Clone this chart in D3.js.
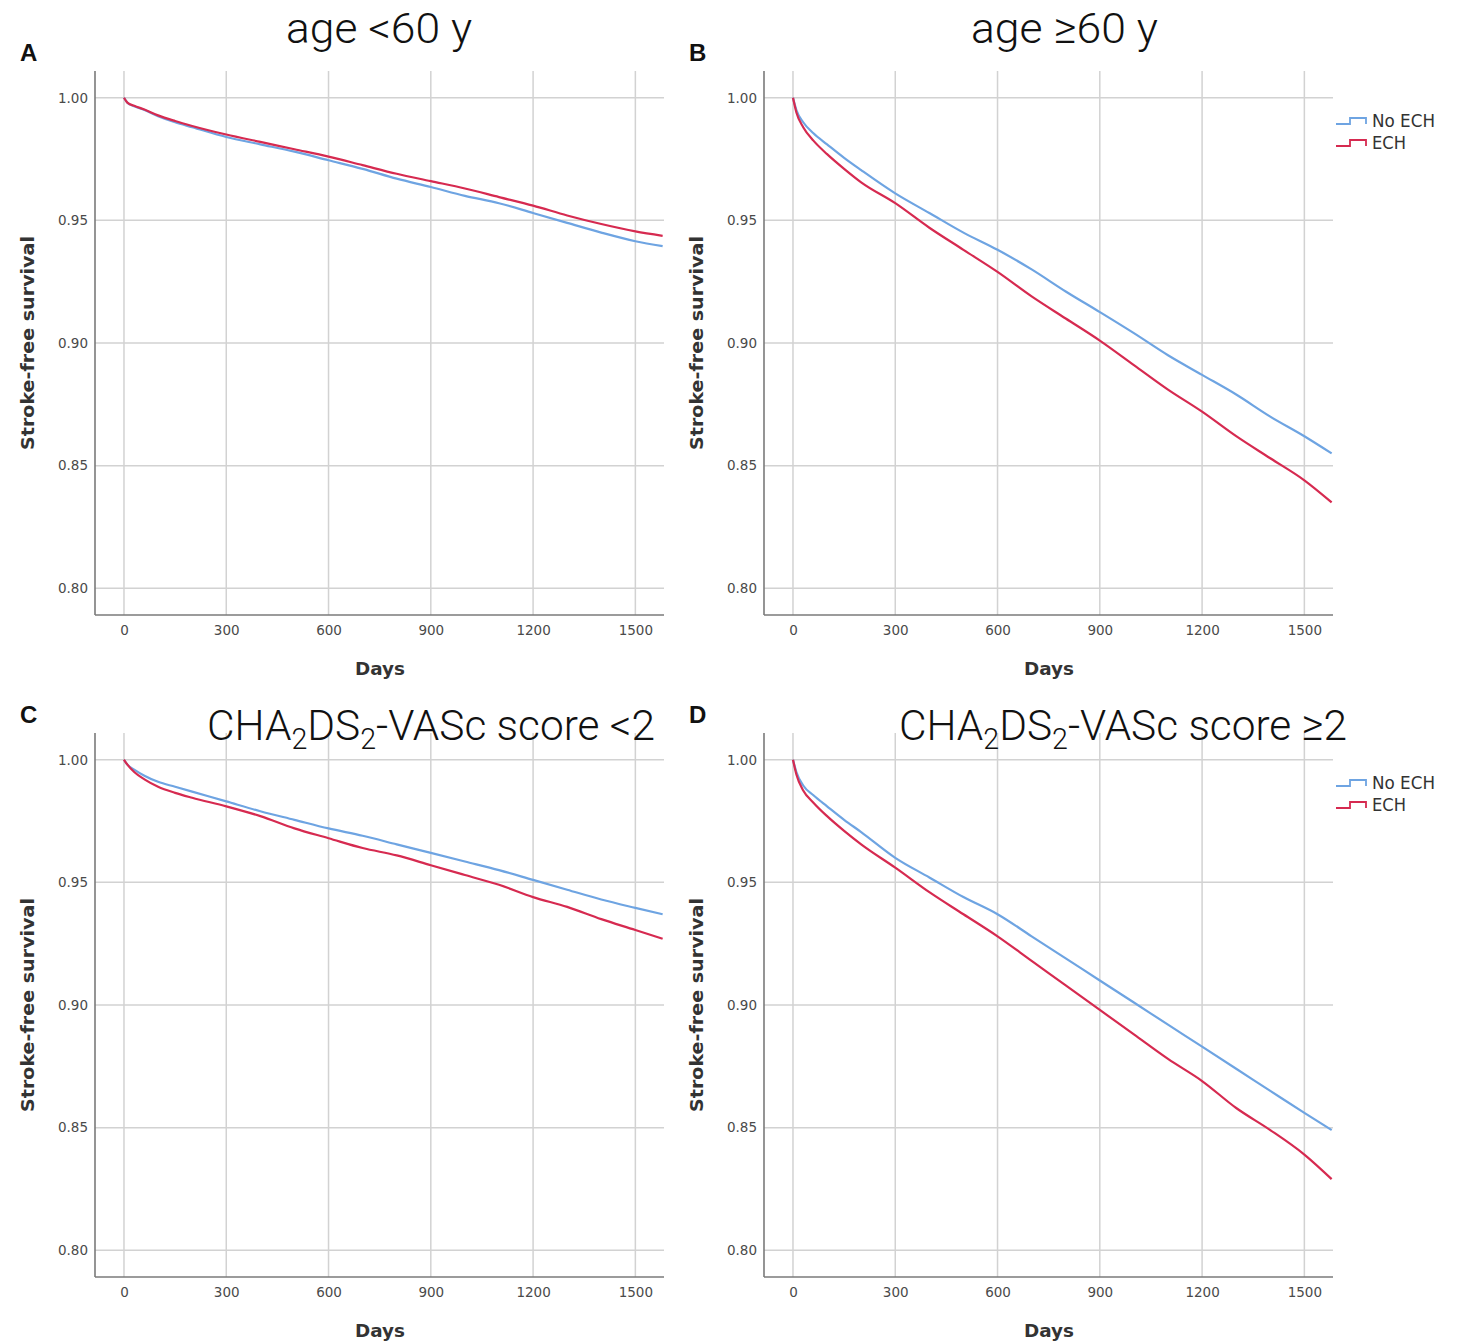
<!DOCTYPE html>
<html><head><meta charset="utf-8">
<script src="https://cdn.jsdelivr.net/npm/d3@7"></script>
<style>body{margin:0;background:#fff}svg{display:block}</style>
</head><body>
<script>
// ---- data ----
const days = [0,10,30,60,100,150,200,300,400,500,600,700,800,900,1000,1100,1200,1300,1400,1500,1580];
const xTicks = [0,300,600,900,1200,1500];
const yTicks = [0.80,0.85,0.90,0.95,1.00];
const seriesNames = ["No ECH","ECH"];
const panelLetters = ["A","B","C","D"];
const panelTitles = ["age <60 y","age \u226560 y","CHA2DS2-VASc score <2","CHA2DS2-VASc score \u22652"];
const aNoECH = [1,0.998,0.9965,0.995,0.9925,0.990,0.988,0.984,0.981,0.978,0.9745,0.971,0.967,0.9636,0.960,0.957,0.953,0.949,0.945,0.9415,0.9395];
const aECH   = [1,0.998,0.9967,0.9952,0.9928,0.9905,0.9885,0.985,0.982,0.979,0.976,0.9725,0.969,0.966,0.963,0.9595,0.956,0.952,0.9485,0.9455,0.9437];
const bNoECH = [1,0.995,0.990,0.9855,0.981,0.9755,0.9705,0.961,0.953,0.945,0.938,0.930,0.921,0.9126,0.904,0.895,0.887,0.879,0.870,0.862,0.855];
const bECH   = [1,0.994,0.988,0.9825,0.977,0.971,0.9655,0.957,0.947,0.938,0.929,0.919,0.910,0.901,0.891,0.881,0.872,0.862,0.853,0.844,0.835];
const cNoECH = [1,0.998,0.996,0.9935,0.991,0.989,0.987,0.983,0.979,0.9755,0.972,0.969,0.9655,0.962,0.9585,0.955,0.951,0.947,0.943,0.9396,0.937];
const cECH   = [1,0.998,0.995,0.992,0.989,0.9865,0.9845,0.981,0.977,0.972,0.968,0.964,0.961,0.957,0.953,0.949,0.944,0.940,0.935,0.9306,0.927];
const dNoECH = [1,0.995,0.9895,0.9855,0.981,0.9755,0.9705,0.960,0.952,0.944,0.937,0.928,0.919,0.910,0.901,0.892,0.883,0.874,0.865,0.856,0.849];
const dECH   = [1,0.994,0.9875,0.9825,0.977,0.971,0.9655,0.956,0.946,0.937,0.928,0.918,0.908,0.898,0.888,0.878,0.869,0.858,0.849,0.839,0.829];
const panelData = [[aNoECH,aECH],[bNoECH,bECH],[cNoECH,cECH],[dNoECH,dECH]];
const showLegend = [false,true,false,true];

// ---- layout ----
const W=1461,H=1343;
const colors=["#6ea4e2","#d62a50"];
const offsets=[[0,0],[669,0],[0,662],[669,662]];
const titleBox=[[286,472,43],[971,1158,43],[207,655,740],[899,1347,740]];
const svg=d3.select("body").append("svg").attr("width",W).attr("height",H);

const x=d3.scaleLinear().domain([-85,1584]).range([95,664]);
const y=d3.scaleLinear().domain([0.7891,1.0109]).range([615,71]);

panelData.forEach((pd,i)=>{
  const [ox,oy]=offsets[i];
  const g=svg.append("g").attr("transform",`translate(${ox},${oy})`);
  // grid
  g.selectAll(".vg").data(xTicks).join("line")
    .attr("x1",d=>x(d)).attr("x2",d=>x(d)).attr("y1",71).attr("y2",615)
    .attr("stroke","#d2d2d2").attr("stroke-width",1.5);
  g.selectAll(".hg").data(yTicks).join("line")
    .attr("x1",95).attr("x2",664).attr("y1",d=>y(d)).attr("y2",d=>y(d))
    .attr("stroke","#d2d2d2").attr("stroke-width",1.5);
  // axes
  const xa=g.append("g").attr("transform","translate(0,615)")
    .call(d3.axisBottom(x).tickValues(xTicks).tickFormat(d3.format("d")).tickSize(0).tickPadding(10));
  const ya=g.append("g").attr("transform","translate(95,0)")
    .call(d3.axisLeft(y).tickValues(yTicks).tickFormat(d3.format(".2f")).tickSize(0).tickPadding(7));
  [xa,ya].forEach(a=>{
    a.select(".domain").attr("stroke","#7a7a7a").attr("stroke-width",1.6);
    a.selectAll("text").attr("font-family","DejaVu Sans").attr("font-size",13.5).attr("fill","#4a4a4a");
  });
  xa.select(".domain").attr("d","M95,0H664");
  ya.select(".domain").attr("d","M0,71V615");
  // axis titles
  g.append("text").attr("x",380).attr("y",675).attr("text-anchor","middle")
    .attr("font-family","DejaVu Sans").attr("font-weight","bold").attr("font-size",18).attr("fill","#333")
    .attr("textLength",50).attr("lengthAdjust","spacingAndGlyphs").text("Days");
  g.append("text").attr("transform","translate(34,343) rotate(-90)").attr("text-anchor","middle")
    .attr("font-family","DejaVu Sans").attr("font-weight","bold").attr("font-size",17.5).attr("fill","#333")
    .attr("textLength",214).attr("lengthAdjust","spacingAndGlyphs").text("Stroke-free survival");
  // letter
  g.append("text").attr("x",20).attr("y",61).attr("font-family","Liberation Sans").attr("font-weight","bold")
    .attr("font-size",24).attr("fill","#111").text(panelLetters[i]);
  // curves
  const line=d3.line().x((d,j)=>x(days[j])).y(d=>y(d)).curve(d3.curveMonotoneX);
  pd.forEach((s,k)=>{
    g.append("path").datum(s).attr("d",line).attr("fill","none")
      .attr("stroke",colors[k]).attr("stroke-width",2.2).attr("stroke-linejoin","round");
  });
  // legend
  if(showLegend[i]){
    seriesNames.forEach((n,k)=>{
      const ly=124+k*22;
      g.append("path").attr("d",`M${667},${ly}H${681}V${ly-6}H${697}V${ly}`)
        .attr("fill","none").attr("stroke",colors[k]).attr("stroke-width",1.8);
      g.append("text").attr("x",703).attr("y",ly+3).attr("font-family","DejaVu Sans")
        .attr("font-size",18).attr("fill","#333")
        .attr("textLength",k===0?63:34).attr("lengthAdjust","spacingAndGlyphs").text(n);
    });
  }
});

// titles (absolute)
panelTitles.forEach((t,i)=>{
  const [x0,x1,by]=titleBox[i];
  const tx=svg.append("text").attr("x",x0).attr("y",by).attr("font-family","Roboto").attr("font-weight",300)
    .attr("font-size",43).attr("fill","#111")
    .attr("textLength",x1-x0).attr("lengthAdjust","spacingAndGlyphs");
  if(t.startsWith("CHA2DS2")){
    const rest=t.slice(7);
    tx.append("tspan").text("CHA");
    tx.append("tspan").attr("dy",9).attr("font-size",29).text("2");
    tx.append("tspan").attr("dy",-9).text("DS");
    tx.append("tspan").attr("dy",9).attr("font-size",29).text("2");
    tx.append("tspan").attr("dy",-9).text(rest);
  } else tx.text(t);
});
</script>
</body></html>
